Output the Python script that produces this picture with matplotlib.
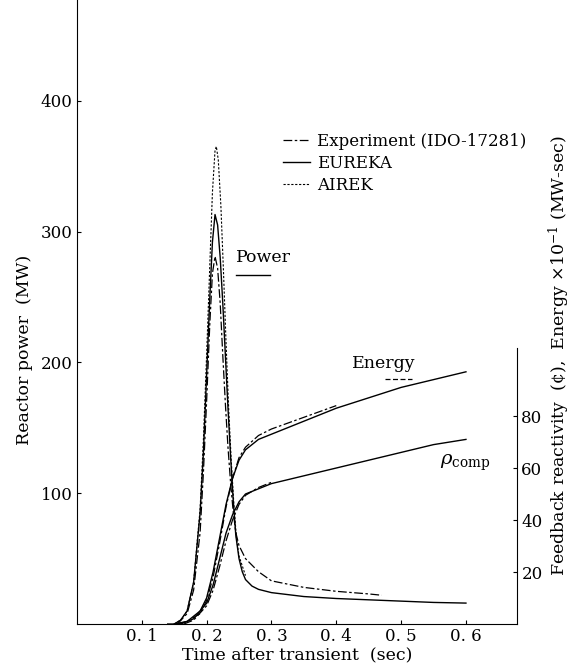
import matplotlib
matplotlib.use('Agg')
import matplotlib.pyplot as plt

plt.rcParams['font.family'] = ['DejaVu Serif']
plt.rcParams['mathtext.fontset'] = 'dejavuserif'

# reactor power (MW)
t_eureka = [0.14, 0.15, 0.16, 0.17, 0.18, 0.19, 0.195, 0.20, 0.205, 0.209, 0.213, 0.217, 0.221,
            0.225, 0.229, 0.233, 0.237, 0.241, 0.245, 0.25, 0.255, 0.26, 0.27, 0.28, 0.30,
            0.35, 0.40, 0.45, 0.50, 0.55, 0.60]
p_eureka = [0, 0, 3, 10, 32, 85, 130, 190, 250, 292, 313, 305, 280,
            245, 205, 165, 128, 95, 68, 50, 40, 34, 29, 26.5, 24,
            21, 19.5, 18.5, 17.5, 16.5, 16]

t_airek = [0.15, 0.16, 0.17, 0.18, 0.19, 0.195, 0.20, 0.205, 0.209, 0.213, 0.215, 0.218, 0.222,
           0.226, 0.23, 0.234, 0.238, 0.242, 0.246, 0.25, 0.26]
p_airek = [0, 3, 10, 32, 88, 140, 205, 275, 330, 362, 365, 355, 320,
           270, 215, 165, 125, 92, 66, 52, 37]

t_exp = [0.155, 0.17, 0.18, 0.19, 0.195, 0.20, 0.205, 0.209, 0.213, 0.217, 0.221, 0.225, 0.229,
         0.233, 0.237, 0.241, 0.245, 0.25, 0.26, 0.28, 0.30, 0.35, 0.40, 0.45, 0.47]
p_exp = [0, 8, 26, 70, 115, 170, 230, 268, 281, 272, 245, 205, 168,
         135, 108, 86, 70, 60, 50, 40, 33, 28, 25, 23, 22]

# energy (x0.1 MW-sec) and feedback reactivity (cents), right scale
t_energy = [0.15, 0.17, 0.19, 0.20, 0.21, 0.22, 0.23, 0.24, 0.25, 0.26, 0.28, 0.30,
            0.35, 0.40, 0.45, 0.50, 0.55, 0.60]
e_eureka = [0, 1, 5, 10, 20, 33, 46, 56, 63, 67, 71, 73, 78, 83, 87, 91, 94, 97]
t_energy_exp = [0.155, 0.17, 0.19, 0.20, 0.21, 0.22, 0.23, 0.24, 0.25, 0.26, 0.28, 0.30, 0.35, 0.40]
e_exp = [0, 1, 4, 9, 18, 31, 45, 56, 64, 68, 72.5, 75, 79.5, 84]

t_rho = [0.16, 0.18, 0.20, 0.21, 0.22, 0.23, 0.24, 0.25, 0.26, 0.28, 0.30,
         0.35, 0.40, 0.45, 0.50, 0.55, 0.60]
rho_eureka = [0, 2, 8, 15, 25, 35, 42, 47, 50, 52, 54, 57, 60, 63, 66, 69, 71]
t_rho_exp = [0.165, 0.18, 0.20, 0.21, 0.22, 0.23, 0.24, 0.25, 0.26, 0.28, 0.30]
rho_exp = [0, 1.5, 7, 13, 22, 32, 40, 46, 49.5, 52.5, 54.5]

x_ticks = [0.1, 0.2, 0.3, 0.4, 0.5, 0.6]
x_labels = ['0. 1', '0. 2', '0. 3', '0. 4', '0. 5', '0. 6']
left_ticks = [100, 200, 300, 400]
right_ticks = [20, 40, 60, 80]

fig = plt.figure(figsize=(5.74, 6.72), dpi=100)
ax = fig.add_axes([0.134, 0.0714, 0.767, 0.9286])
ax2 = ax.twinx()

dash_exp = (0, (7, 2, 2, 2))
ax.plot(t_exp, p_exp, color='black', lw=0.9, ls=dash_exp, label='Experiment (IDO-17281)')
ax.plot(t_eureka, p_eureka, color='black', lw=1.0, label='EUREKA')
ax.plot(t_airek, p_airek, color='black', lw=0.8, ls=(0, (2, 1.5)), label='AIREK')

ax2.plot(t_energy, e_eureka, color='black', lw=1.0)
ax2.plot(t_energy_exp, e_exp, color='black', lw=0.9, ls=dash_exp)
ax2.plot(t_rho, rho_eureka, color='black', lw=1.0)
ax2.plot(t_rho_exp, rho_exp, color='black', lw=0.9, ls=dash_exp)

ax.set_xlim(0, 0.679)
ax.set_ylim(0, 477)
ax2.set_ylim(0, 240)

for a in (ax, ax2):
    a.spines['top'].set_visible(False)
ax.spines['right'].set_visible(False)
ax2.spines['left'].set_visible(False)
ax2.spines['bottom'].set_visible(False)
ax2.spines['right'].set_bounds(0, 106)

ax.set_xticks(x_ticks)
ax.set_xticklabels(x_labels)
ax.set_yticks(left_ticks)
ax2.set_yticks(right_ticks)
ax.tick_params(axis='both', direction='in', length=3, width=0.8, labelsize=12, pad=3)
ax2.tick_params(axis='y', direction='in', length=3, width=0.8, labelsize=12, pad=3)

ax.set_xlabel('Time after transient  (sec)', fontsize=12.5, labelpad=1)
ax.set_ylabel('Reactor power  (MW)', fontsize=12.5)
ax.yaxis.set_label_coords(-0.1, 0.44)
ax2.set_ylabel(r'Feedback reactivity  (¢),  Energy $\times 10^{-1}$ (MW-sec)', fontsize=12.5)
ax2.yaxis.set_label_coords(1.068, 0.43)

ax.legend(loc='upper left', bbox_to_anchor=(0.45, 0.80), frameon=False, fontsize=12,
          handlelength=1.6, handletextpad=0.4, labelspacing=0.3, borderpad=0)

ax.text(0.361, 0.587, 'Power', transform=ax.transAxes, fontsize=12.5, va='center')
ax.plot([0.361, 0.439], [0.559, 0.559], transform=ax.transAxes, color='black', lw=1.0)
ax.text(0.625, 0.418, 'Energy', transform=ax.transAxes, fontsize=12.5, va='center')
ax.plot([0.70, 0.76], [0.393, 0.393], transform=ax.transAxes, color='black', lw=0.9, ls=(0, (4, 2)))
ax.text(0.825, 0.258, r'$\rho_{\rm comp}$', transform=ax.transAxes, fontsize=14, va='center')

fig.savefig('out.png', dpi=100)
